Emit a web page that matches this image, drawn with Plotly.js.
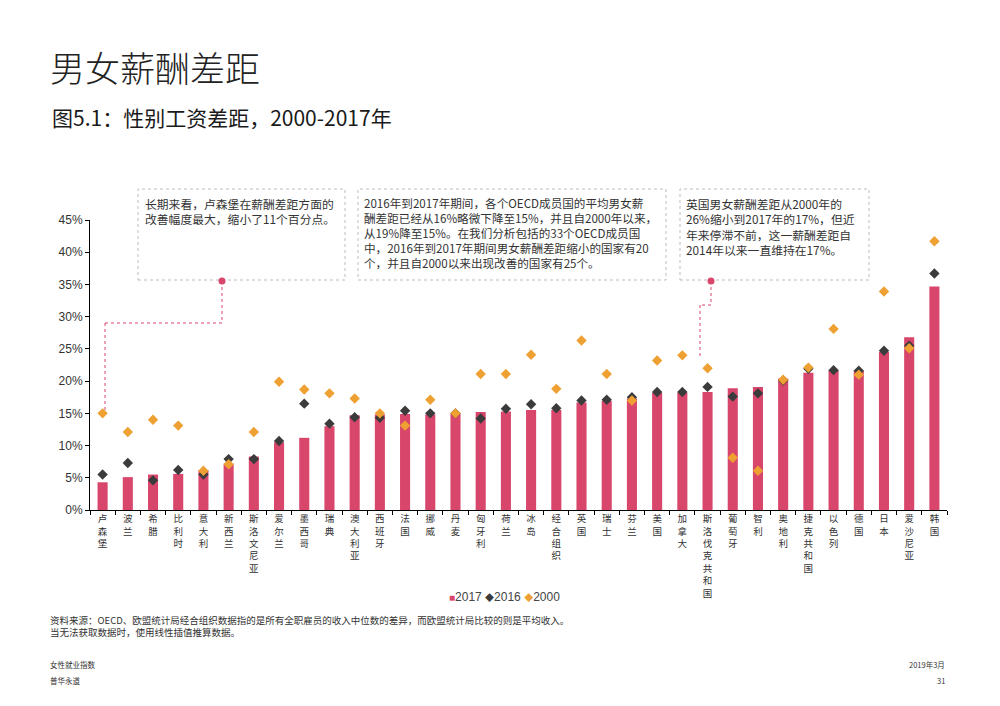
<!DOCTYPE html>
<html>
<head>
<meta charset="utf-8">
<script src="https://cdn.plot.ly/plotly-3.0.1.min.js"></script>
<style>html,body{margin:0;padding:0;background:#fff;}#chart{width:1000px;height:706px;}</style>
</head>
<body>
<div id="chart"></div>
<script>
const categories = ['卢森堡','波兰','希腊','比利时','意大利','新西兰','斯洛文尼亚','爱尔兰','墨西哥','瑞典','澳大利亚','西班牙','法国','挪威','丹麦','匈牙利','荷兰','冰岛','经合组织','英国','瑞士','芬兰','美国','加拿大','斯洛伐克共和国','葡萄牙','智利','奥地利','捷克共和国','以色列','德国','日本','爱沙尼亚','韩国'];
const v2017 = [4.3,5.1,5.5,5.6,6.2,7.2,8.3,10.5,11.2,13.0,14.7,14.8,14.9,14.8,15.0,15.2,15.3,15.5,15.5,16.7,16.9,17.3,18.2,18.2,18.3,18.9,19.1,20.4,21.3,21.7,21.6,24.5,26.8,34.7];
const v2016 = [5.5,7.3,4.6,6.2,5.5,7.9,7.9,10.7,16.5,13.4,14.4,14.3,15.4,15.0,15.0,14.2,15.7,16.4,15.8,17.0,17.1,17.5,18.3,18.3,19.1,17.6,18.1,20.1,21.9,21.7,21.6,24.7,25.5,36.7];
const v2000 = [15.0,12.1,14.0,13.1,6.1,7.1,12.1,19.9,18.7,18.1,17.3,15.0,13.1,17.1,15.0,21.1,21.1,24.1,18.8,26.3,21.1,17.0,23.2,24.0,22.0,8.1,6.1,20.2,22.1,28.1,21.0,33.9,25.1,41.7];
const seriesNames = ['2017','2016','2000'];
const yTicks = [0,5,10,15,20,25,30,35,40,45];

const titleText = '男女薪酬差距';
const subtitleText = '图5.1：性别工资差距，2000-2017年';
const note1 = ['长期来看，卢森堡在薪酬差距方面的','改善幅度最大，缩小了11个百分点。'];
const note2 = ['2016年到2017年期间，各个OECD成员国的平均男女薪','酬差距已经从16%略微下降至15%，并且自2000年以来，','从19%降至15%。在我们分析包括的33个OECD成员国','中，2016年到2017年期间男女薪酬差距缩小的国家有20','个，并且自2000以来出现改善的国家有25个。'];
const note3 = ['英国男女薪酬差距从2000年的','26%缩小到2017年的17%，但近','年来停滞不前，这一薪酬差距自','2014年以来一直维持在17%。'];
const sourceText = ['资料来源：OECD、欧盟统计局经合组织数据指的是所有全职雇员的收入中位数的差异，而欧盟统计局比较的则是平均收入。','当无法获取数据时，使用线性插值推算数据。'];

const CJK = '"Noto Sans CJK SC", "Liberation Sans", sans-serif';
const LAT = '"Liberation Sans", "Noto Sans CJK SC", sans-serif';
const PINK = '#d8466c', DARK = '#3b3b3b', ORANGE = '#eea032';
const seriesColors = [PINK, DARK, ORANGE];
const legendSymbols = ['■','◆','◆'];

// plot-area pixel -> paper helpers (plot area: x 90..947, y 220..510)
const L = 90, R = 947, T = 220, B = 510;
const px = x => (x - L) / (R - L);
const py = y => (B - y) / (B - T);

const traces = [
  {type:'bar', name:seriesNames[0], x:categories, y:v2017, marker:{color:seriesColors[0]}, hoverinfo:'skip'},
  {type:'scatter', mode:'markers', name:seriesNames[1], x:categories, y:v2016,
   marker:{symbol:'diamond', size:8, color:seriesColors[1]}, hoverinfo:'skip', cliponaxis:false},
  {type:'scatter', mode:'markers', name:seriesNames[2], x:categories, y:v2000,
   marker:{symbol:'diamond', size:8, color:seriesColors[2]}, hoverinfo:'skip', cliponaxis:false}
];

function box(x0,y0,x1,y1){
  return {type:'rect', xref:'paper', yref:'paper', x0:px(x0), x1:px(x1), y0:py(y1), y1:py(y0),
    line:{color:'#bdbdbd', width:1, dash:'dot'}, fillcolor:'rgba(0,0,0,0)', layer:'above'};
}
function seg(x0,y0,x1,y1){
  return {type:'line', xref:'paper', yref:'paper', x0:px(x0), x1:px(x1), y0:py(y0), y1:py(y1),
    line:{color:PINK, width:1, dash:'dot'}};
}
function dot(x,y){
  return {type:'circle', xref:'paper', yref:'paper', x0:px(x-3.5), x1:px(x+3.5), y0:py(y+3.5), y1:py(y-3.5),
    fillcolor:PINK, line:{color:PINK, width:0}};
}

const shapes = [
  box(138,189,345,280), box(358,189,666,280), box(680,189,869,280),
  seg(222,281,222,323), seg(222,323,105,323), seg(105,323,105,412), dot(222,281),
  seg(711,281,711,305), seg(711,305,700,305), seg(700,305,700,357), dot(711,281)
];

function textAnn(lines, x, y, size, opts){
  return Object.assign({xref:'paper', yref:'paper', x:px(x), y:py(y), xanchor:'left', yanchor:'top',
    align:'left', showarrow:false, text:lines.join('<br>'),
    font:{family:CJK, size:size, color:'#333'}}, opts||{});
}

const legendText = seriesNames.map((n,i) =>
  '<span style="color:' + seriesColors[i] + ';font-size:' + (i===0?10:9) + 'px">' + legendSymbols[i] + '</span>' + n
).join(' ');

const annotations = [
  textAnn(note1, 143, 193, 11.8),
  textAnn(note2, 362, 193, 11.6),
  textAnn(note3, 684, 193, 11.8),
  textAnn([subtitleText], 50, 100, 21, {font:{family:CJK, size:21, color:'#1a1a1a'}}),
  textAnn(sourceText, 48, 611, 9.5, {font:{family:CJK, size:9.5, color:'#333'}}),
  textAnn(['女性就业指数'], 48, 657, 7.5, {font:{family:CJK, size:7.5, color:'#333'}}),
  textAnn(['普华永道'], 48, 673, 7.5, {font:{family:CJK, size:7.5, color:'#333'}}),
  textAnn(['2019年3月'], 947, 657, 7.5, {xanchor:'right', align:'right', font:{family:CJK, size:7.5, color:'#333'}}),
  textAnn(['31'], 947, 673, 7.5, {xanchor:'right', align:'right', font:{family:CJK, size:7.5, color:'#333'}}),
  {xref:'paper', yref:'paper', x:px(504), y:py(597), xanchor:'center', yanchor:'middle', showarrow:false,
   text:legendText, font:{family:LAT, size:12, color:'#444'}}
];

const layout = {
  width:1000, height:706,
  margin:{l:L, r:1000-R, t:T, b:706-B, pad:0},
  paper_bgcolor:'#fff', plot_bgcolor:'#fff',
  title:{text:titleText, xref:'container', yref:'container', x:0.05, xanchor:'left', y:1-70/706, yanchor:'middle',
    font:{family:CJK, size:35, color:'#222', weight:300}},
  bargap:0.6,
  showlegend:false,
  xaxis:{type:'category', range:[-0.5, categories.length-0.5], tickvals:categories,
    ticktext:categories.map(c => c.split('').join('<br>')),
    showline:true, linecolor:'#000', linewidth:1, ticks:'outside', tickson:'boundaries', ticklen:4, tickcolor:'#000',
    showgrid:false, zeroline:false, tickangle:0, tickfont:{family:CJK, size:9.5, color:'#333'}},
  yaxis:{range:[0,45], tickvals:yTicks, ticktext:yTicks.map(v => v + '%'),
    showline:true, linecolor:'#000', linewidth:1, ticks:'outside', ticklen:4, tickcolor:'#000',
    showgrid:false, zeroline:false, tickfont:{family:LAT, size:12, color:'#333'}},
  shapes:shapes,
  annotations:annotations
};

Plotly.newPlot('chart', traces, layout, {displayModeBar:false, staticPlot:true});
</script>
</body>
</html>
